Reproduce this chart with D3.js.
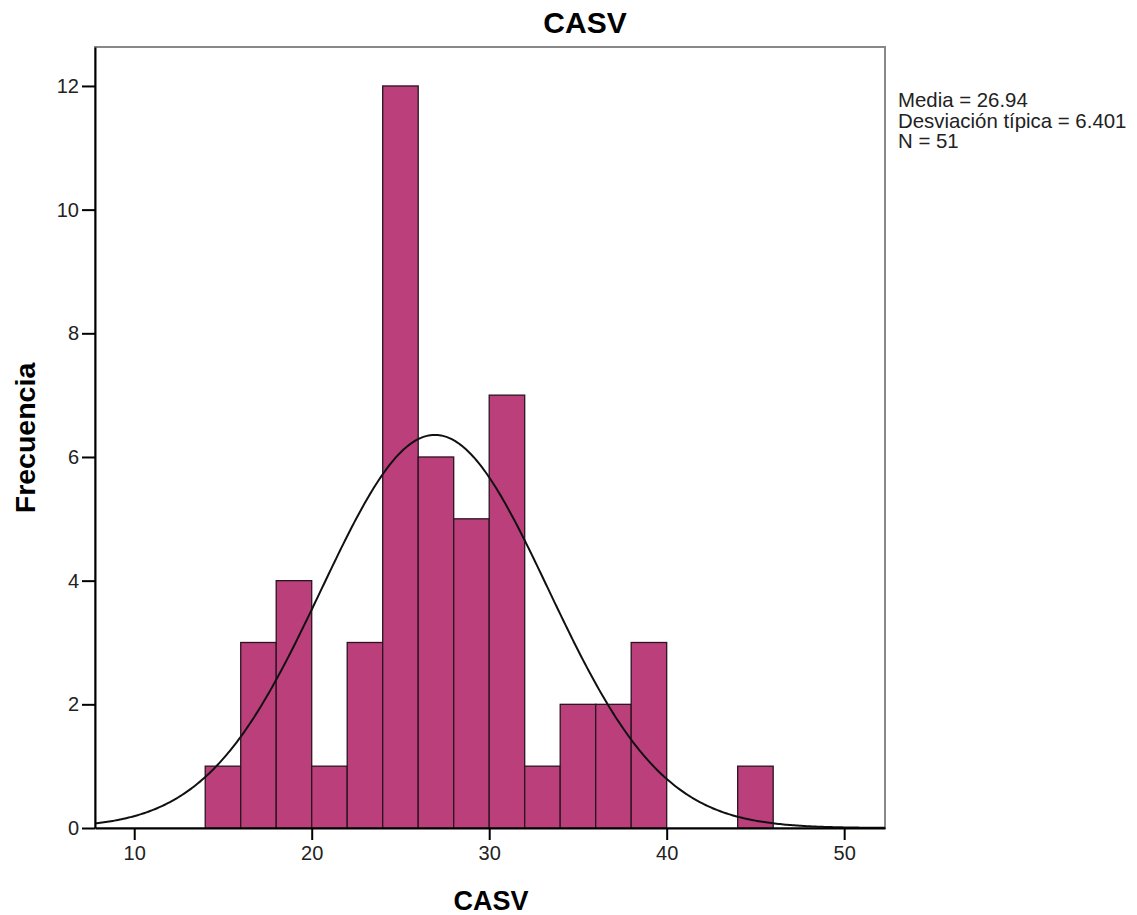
<!DOCTYPE html>
<html lang="en">
<head>
<meta charset="UTF-8">
<title>CASV</title>
<script src="https://cdnjs.cloudflare.com/ajax/libs/d3/7.8.5/d3.min.js"></script>
<style>
    body { margin: 0; background: #fff; font-family: "Liberation Sans", Arial, sans-serif; }
</style>
</head>
<body>
<div id="chart"></div>
<script>
// histogram bins (lower edge, width 2) and counts
var binStarts = [14, 16, 18, 20, 22, 24, 26, 28, 30, 32, 34, 36, 38, 40, 42, 44];
var counts    = [1, 3, 4, 1, 3, 12, 6, 5, 7, 1, 2, 2, 3, 0, 0, 1];
var binWidth = 2;
var xTicks = [10, 20, 30, 40, 50];
var yTicks = [0, 2, 4, 6, 8, 10, 12];
var stats = { mean: 26.94, sd: 6.401, n: 51 };
var statLines = ["Media = 26.94", "Desviación típica = 6.401", "N = 51"];

var W = 1137, H = 915;
var plot = { left: 95, right: 885, top: 47, bottom: 828 };

var svg = d3.select("#chart").append("svg")
    .attr("width", W).attr("height", H);

var x = d3.scaleLinear().domain([7.79, 52.3]).range([plot.left, plot.right]);
var y = d3.scaleLinear().domain([0, 12.63]).range([plot.bottom, plot.top]);

// frame (top/right grey)
svg.append("rect")
    .attr("x", plot.left).attr("y", plot.top)
    .attr("width", plot.right - plot.left).attr("height", plot.bottom - plot.top)
    .attr("fill", "none").attr("stroke", "#888").attr("stroke-width", 2);

// bars
svg.selectAll(".bar")
    .data(binStarts.map(function(b, i) { return {x0: b, n: counts[i]}; }).filter(function(d) { return d.n > 0; }))
    .enter().append("rect")
    .attr("class", "bar")
    .attr("x", function(d) { return x(d.x0); })
    .attr("y", function(d) { return y(d.n); })
    .attr("width", function(d) { return x(d.x0 + binWidth) - x(d.x0); })
    .attr("height", function(d) { return y(0) - y(d.n); })
    .attr("fill", "#bb3f7b")
    .attr("stroke", "#2a1420")
    .attr("stroke-width", 1.3);

// normal curve
var scale = stats.n * binWidth / (stats.sd * Math.sqrt(2 * Math.PI));
var curvePts = d3.range(x.domain()[0], x.domain()[1] + 0.01, 0.1).map(function(v) {
    var z = (v - stats.mean) / stats.sd;
    return [v, scale * Math.exp(-0.5 * z * z)];
});
svg.append("path")
    .datum(curvePts)
    .attr("fill", "none")
    .attr("stroke", "#111")
    .attr("stroke-width", 2)
    .attr("d", d3.line().x(function(d) { return x(d[0]); }).y(function(d) { return y(d[1]); }));

// axes
var xAxis = svg.append("g")
    .attr("transform", "translate(0," + plot.bottom + ")")
    .call(d3.axisBottom(x).tickValues(xTicks).tickSize(12).tickSizeOuter(0).tickPadding(6));
var yAxis = svg.append("g")
    .attr("transform", "translate(" + plot.left + ",0)")
    .call(d3.axisLeft(y).tickValues(yTicks).tickSize(13).tickSizeOuter(0).tickPadding(3));

[xAxis, yAxis].forEach(function(g) {
    g.select(".domain").attr("stroke", "#000").attr("stroke-width", 2);
    g.selectAll(".tick line").attr("stroke", "#000").attr("stroke-width", 2);
    g.selectAll(".tick text")
        .attr("fill", "#222")
        .style("font-family", "'Liberation Sans', Arial, sans-serif")
        .style("font-size", "20px");
});

// titles
svg.append("text")
    .attr("x", 585).attr("y", 33)
    .attr("text-anchor", "middle")
    .style("font-size", "30px").style("font-weight", "bold")
    .text("CASV");

svg.append("text")
    .attr("x", 491).attr("y", 910)
    .attr("text-anchor", "middle")
    .style("font-size", "27px").style("font-weight", "bold")
    .text("CASV");

svg.append("text")
    .attr("transform", "translate(35,438) rotate(-90)")
    .attr("text-anchor", "middle")
    .style("font-size", "28.5px").style("font-weight", "bold")
    .text("Frecuencia");

// stats box text
svg.selectAll(".stat")
    .data(statLines)
    .enter().append("text")
    .attr("class", "stat")
    .attr("x", 898)
    .attr("y", function(d, i) { return 107 + i * 20.5; })
    .style("font-size", "20.4px")
    .attr("fill", "#222")
    .text(function(d) { return d; });
</script>
</body>
</html>
